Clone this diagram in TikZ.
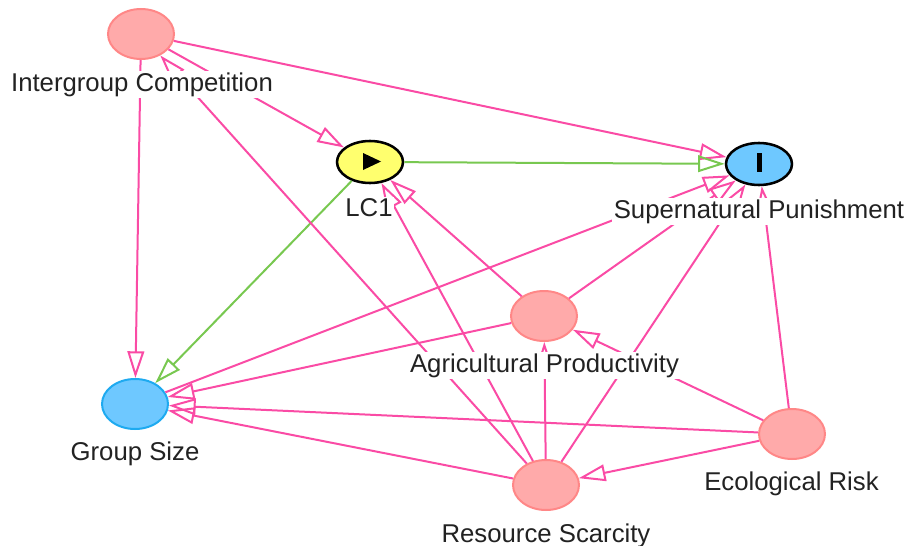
\documentclass[tikz,border=0pt]{standalone}
\usepackage{fontspec}
\setmainfont{Liberation Sans}
\usetikzlibrary{arrows.meta,shapes.geometric}
\definecolor{edgepink}{RGB}{250,75,165}
\definecolor{edgegreen}{RGB}{120,200,80}
\definecolor{nodepink}{RGB}{255,170,170}
\definecolor{nodepinkborder}{RGB}{255,135,135}
\definecolor{nodeyellow}{RGB}{255,255,110}
\definecolor{nodeblue}{RGB}{110,200,255}
\definecolor{gsborder}{RGB}{30,170,240}
\definecolor{labeltext}{RGB}{34,34,34}
\begin{document}
\begin{tikzpicture}[x=0.75pt,y=-0.75pt,
  var/.style={ellipse, minimum width=49.5pt, minimum height=37.5pt, inner sep=0pt, line width=1.5pt},
  pinkvar/.style={var, fill=nodepink, draw=nodepinkborder},
  bluevar/.style={var, fill=nodeblue, draw=gsborder},
  keyvar/.style={var, minimum height=31.5pt, line width=1.9pt, draw=black},
  lbl/.style={fill=white, inner sep=1pt, anchor=base, text=labeltext, font=\fontsize{19.3}{22}\selectfont},
  edge/.style={draw=edgepink, line width=1.5pt, -{Triangle[open,length=20pt,width=12.5pt]}},
  gedge/.style={edge, draw=edgegreen},
]
\useasboundingbox (0,0) rectangle (908,546);

% variables
\node[pinkvar] (ic) at (141,34) {};
\node[keyvar, fill=nodeyellow] (lc) at (370,162) {};
\node[keyvar, fill=nodeblue] (sp) at (759,164) {};
\node[bluevar] (gs) at (135,404) {};
\node[pinkvar] (ap) at (544,316) {};
\node[pinkvar] (rs) at (546,485) {};
\node[pinkvar] (er) at (792,434) {};

% symbols
\fill ([shift={(-7,-9)}]lc.center) -- ([shift={(-7,8)}]lc.center) -- ([shift={(11,-0.5)}]lc.center) -- cycle;
\fill ([shift={(-2.5,-11)}]sp.center) rectangle ([shift={(2.5,8)}]sp.center);

% edges
\draw[edge] (ic) -- (lc);
\draw[edge] (ic) -- (sp);
\draw[edge] (ic) -- (gs);
\draw[gedge] (lc) -- (sp);
\draw[gedge] (lc) -- (gs);
\draw[edge] (ap) -- (lc);
\draw[edge] (ap) -- (sp);
\draw[edge] (ap) -- (gs);
\draw[edge] (rs) -- (ic);
\draw[edge] (rs) -- (lc);
\draw[edge] (rs) -- (sp);
\draw[edge] (rs) -- (ap);
\draw[edge] (rs) -- (gs);
\draw[edge] (er) -- (sp);
\draw[edge] (er) -- (ap);
\draw[edge] (er) -- (rs);
\draw[edge] (er) -- (gs);
\draw[edge] (gs) -- (sp);

% labels
\node[lbl] (icl) at (142,91) {Intergroup Competition};
\node[lbl] (lcl) at (369,216) {LC1};
\node[lbl] (spl) at (759,218) {Supernatural Punishment};
\node[lbl] (gsl) at (135,460) {Group Size};
\node[lbl] (apl) at (544.5,372) {Agricultural Productivity};
\node[lbl] (erl) at (791.5,490) {Ecological Risk};
\node[lbl] (rsl) at (546,542) {Resource Scarcity};
\end{tikzpicture}
\end{document}
